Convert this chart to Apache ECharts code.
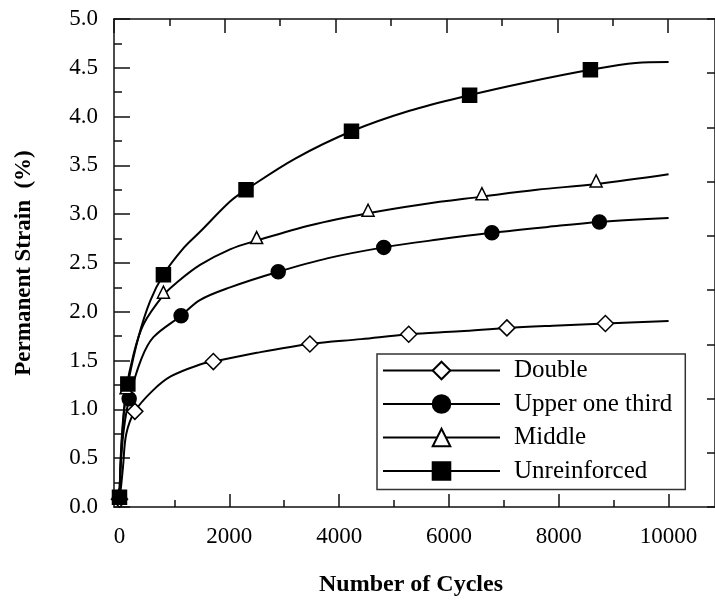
<!DOCTYPE html>
<html><head><meta charset="utf-8">
<script src="https://cdn.jsdelivr.net/npm/echarts@6/dist/echarts.min.js"></script>
<style>html,body{margin:0;padding:0;background:#fff}#c{width:715px;height:602px}</style>
</head><body><div id="c"></div>
<script>
// ---- data ----
const seriesNames = ['Double', 'Upper one third', 'Middle', 'Unreinforced'];

const doubleCurve = [[0,0.08],[30,0.22],[64,0.41],[124,0.75],[280,0.98],[600,1.19],[940,1.34],[1467,1.46],[1709,1.49],[2500,1.58],[3467,1.67],[4400,1.72],[5267,1.77],[6200,1.80],[7055,1.835],[8000,1.86],[8849,1.88],[10000,1.905]];
const doubleMarks = [0,280,1709,3467,5267,7055,8849];

const upperCurve = [[0,0.1],[25,0.45],[80,0.8],[176,1.11],[400,1.52],[618,1.74],[1122,1.96],[1464,2.12],[2013,2.25],[2891,2.41],[3800,2.55],[4813,2.66],[5800,2.74],[6782,2.81],[7800,2.87],[8740,2.92],[10000,2.96]];
const upperMarks = [0,176,1122,2891,4813,6782,8740];

const middleCurve = [[0,0.1],[25,0.5],[65,0.85],[120,1.19],[250,1.55],[436,1.87],[800,2.17],[1044,2.30],[1467,2.48],[2013,2.64],[2498,2.73],[3500,2.89],[4527,3.01],[5500,3.10],[6600,3.18],[7600,3.25],[8680,3.31],[10000,3.41]];
const middleMarks = [0,120,800,2498,4527,6600,8680];

const unreinCurve = [[0,0.1],[30,0.6],[80,0.98],[152,1.26],[345,1.74],[558,2.11],[800,2.38],[1162,2.65],[1467,2.82],[2013,3.13],[2304,3.25],[3200,3.57],[4225,3.85],[5282,4.06],[6376,4.22],[7404,4.35],[8576,4.48],[9400,4.55],[10000,4.56]];
const unreinMarks = [0,152,800,2304,4225,6376,8576];

const xMajorTicks = [0,2000,4000,6000,8000,10000];
const xMinorTicks = [1000,3000,5000,7000,9000];
const yMajorTicks = [0,0.5,1,1.5,2,2.5,3,3.5,4,4.5,5];
const yMinorTicks = [0.25,0.75,1.25,1.75,2.25,2.75,3.25,3.75,4.25,4.75];
const topMajorTicks = [0,2,4,6,8,10];
const topMinorTicks = [1,3,5,7,9];

// ---- chart ----
const FONT = 'Liberation Serif, Times New Roman, serif';
const chart = echarts.init(document.getElementById('c'), null, {renderer: 'canvas'});

function build(curve, marks) {
  return curve.map(p => marks.indexOf(p[0]) >= 0 ? {value: p} : {value: p, symbol: 'none'});
}
const styles = [
  {symbol: 'diamond', symbolSize: 16, fill: '#fff', off: [0, 0]},
  {symbol: 'circle', symbolSize: 14, fill: '#000', off: [0, 0]},
  {symbol: 'triangle', symbolSize: 12, fill: '#fff', off: [0, -3]},
  {symbol: 'rect', symbolSize: 14, fill: '#000', off: [0, 0]}
];
const curves = [[doubleCurve, doubleMarks], [upperCurve, upperMarks], [middleCurve, middleMarks], [unreinCurve, unreinMarks]];

const series = curves.map((c, i) => ({
  name: seriesNames[i],
  type: 'line',
  xAxisIndex: 0, yAxisIndex: 0,
  data: build(c[0], c[1]),
  smooth: 0.35,
  symbol: styles[i].symbol,
  symbolSize: styles[i].symbolSize,
  symbolOffset: styles[i].off,
  showSymbol: true,
  lineStyle: {color: '#000', width: 2},
  itemStyle: {color: styles[i].fill, borderColor: '#000', borderWidth: 1.5},
  emphasis: {disabled: true},
  animation: false,
  z: 3
}));

const tickLine = {color: '#111', width: 1.5};
const mainLine = {color: '#111', width: 1.5};
const option = {
  animation: false,
  backgroundColor: '#fff',
  grid: {left: 114, right: -1, top: 19, bottom: 91.5, containLabel: false},
  legend: {
    orient: 'vertical',
    left: 377, top: 354,
    data: seriesNames,
    itemWidth: 117, itemHeight: 22, itemGap: 8.5,
    padding: [4, 13, 6, 5],
    borderColor: '#333', borderWidth: 1.5, backgroundColor: '#fff',
    textStyle: {fontFamily: FONT, fontSize: 25, color: '#000', padding: [0, 0, 0, 9]},
    selectedMode: false
  },
  xAxis: [
    {type: 'value', position: 'bottom', min: -100, max: 10845,
     axisLine: {show: true, onZero: false, lineStyle: mainLine},
     axisTick: {show: true, inside: true, length: 13, customValues: xMajorTicks, lineStyle: tickLine},
     axisLabel: {show: true, customValues: xMajorTicks, margin: 18, fontFamily: FONT, fontSize: 23, color: '#000',
                 formatter: v => String(v)},
     splitLine: {show: false},
     name: 'Number of Cycles', nameLocation: 'middle', nameGap: 66,
     nameTextStyle: {fontFamily: FONT, fontSize: 24, fontWeight: 'bold', color: '#000', padding: [0, 7, 0, 0]}},
    {type: 'value', position: 'bottom', min: -100, max: 10845,
     axisLine: {show: false, onZero: false},
     axisTick: {show: true, inside: true, length: 7, customValues: xMinorTicks, lineStyle: tickLine},
     axisLabel: {show: false}, splitLine: {show: false}},
    {type: 'value', position: 'top', min: 0, max: 10.847,
     axisLine: {show: true, onZero: false, lineStyle: mainLine},
     axisTick: {show: true, inside: true, length: 14, customValues: topMajorTicks, lineStyle: tickLine},
     axisLabel: {show: false}, splitLine: {show: false}},
    {type: 'value', position: 'top', min: 0, max: 10.847,
     axisLine: {show: false, onZero: false},
     axisTick: {show: true, inside: true, length: 7, customValues: topMinorTicks, lineStyle: tickLine},
     axisLabel: {show: false}, splitLine: {show: false}}
  ],
  yAxis: [
    {type: 'value', position: 'left', min: 0, max: 5, interval: 0.5,
     axisLine: {show: true, onZero: false, lineStyle: mainLine},
     axisTick: {show: true, inside: true, length: 16, customValues: yMajorTicks, lineStyle: tickLine},
     axisLabel: {show: true, margin: 16, fontFamily: FONT, fontSize: 23, color: '#000',
                 formatter: v => v.toFixed(1)},
     splitLine: {show: false},
     name: 'Permanent Strain  (%)', nameLocation: 'middle', nameGap: 78,
     nameTextStyle: {fontFamily: FONT, fontSize: 23, fontWeight: 'bold', color: '#000'}},
    {type: 'value', position: 'left', min: 0, max: 5,
     axisLine: {show: false, onZero: false},
     axisTick: {show: true, inside: true, length: 8, customValues: yMinorTicks, lineStyle: tickLine},
     axisLabel: {show: false}, splitLine: {show: false}},
    {type: 'value', position: 'right', min: 0, max: 9, interval: 1,
     axisLine: {show: true, onZero: false, lineStyle: mainLine},
     axisTick: {show: true, inside: true, length: 8, lineStyle: tickLine},
     axisLabel: {show: false}, splitLine: {show: false}}
  ],
  series: series
};
chart.setOption(option);
</script>
</body></html>
